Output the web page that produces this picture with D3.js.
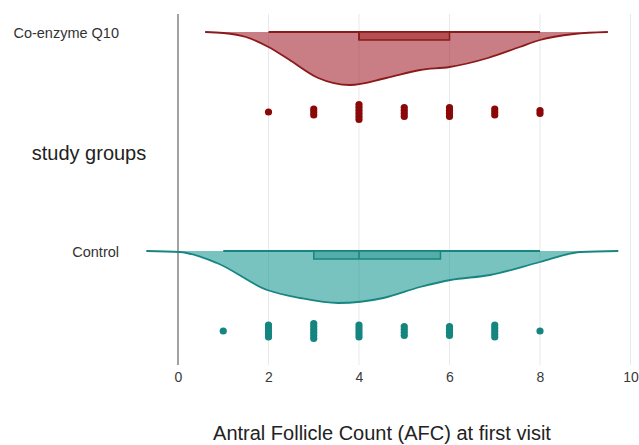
<!DOCTYPE html>
<html>
<head>
<meta charset="utf-8">
<script src="https://cdn.jsdelivr.net/npm/d3@7"></script>
<style>
  body { margin: 0; background: #fff; }
  svg { display: block; font-family: "Liberation Sans", Arial, sans-serif; }
</style>
</head>
<body>
<svg id="chart" width="639" height="445"></svg>
<script>
// Study groups, top to bottom
const groups = ["Co-enzyme Q10", "Control"];
const xTicks = [0, 2, 4, 6, 8, 10];

// Half-violin outlines: [AFC, density]
const densityQ10 = [[0.6, 0], [1, 0.005], [1.5, 0.025], [2, 0.075], [2.5, 0.145], [3.1, 0.23], [3.8, 0.265],
  [4.6, 0.23], [5.35, 0.19], [6.0, 0.175], [6.85, 0.13], [7.55, 0.075], [8.0, 0.04], [8.75, 0.01], [9.5, 0]];
const densityControl = [[-0.7, 0], [0.04, 0.005], [0.86, 0.06], [1.97, 0.195], [2.7, 0.235], [3.54, 0.26],
  [4.54, 0.235], [5.35, 0.18], [6.02, 0.145], [6.9, 0.12], [8.0, 0.055], [8.9, 0.005], [9.73, 0]];

// Box summaries: [lower whisker, Q1, median, Q3, upper whisker]
const boxQ10 = [2, 4, 4, 6, 8];
const boxControl = [1, 3, 4, 5.8, 8];

// Observed AFC values and how many patients had each
const afcValues = [1, 2, 3, 4, 5, 6, 7, 8];
const countsQ10 = [0, 1, 3, 6, 4, 4, 3, 2];
const countsControl = [1, 5, 6, 5, 4, 4, 5, 1];

const series = [
  { name: groups[0], density: densityQ10, box: boxQ10, counts: countsQ10,
    fill: "#a01c28", line: "#8b1a1a", boxFill: "#b04848", dot: "#8b0808" },
  { name: groups[1], density: densityControl, box: boxControl, counts: countsControl,
    fill: "#129490", line: "#178680", boxFill: "#4fa9a4", dot: "#14857f" }
];

const svg = d3.select("#chart");
const plotTop = 14, plotBottom = 365;

const x = d3.scaleLinear().domain([0, 10]).range([178, 630.5]);
const yGroup = d3.scalePoint().domain(groups).range([32, 251]);
const depth = d3.scaleLinear().domain([0, 0.3]).range([0, 60]);
const dotOffset = 80, dotGap = 3, dotR = 3.6;

// gridlines
svg.append("g").selectAll("line").data(xTicks.filter(d => d > 0)).join("line")
  .attr("x1", d => x(d)).attr("x2", d => x(d))
  .attr("y1", plotTop).attr("y2", plotBottom)
  .attr("stroke", "#e9e9e9").attr("stroke-width", 1);

// x = 0 reference line
svg.append("line")
  .attr("x1", x(0)).attr("x2", x(0)).attr("y1", plotTop).attr("y2", plotBottom)
  .attr("stroke", "#7a7a7a").attr("stroke-width", 1.4);

// x axis labels
const axis = svg.append("g").attr("transform", `translate(0,${plotBottom})`)
  .call(d3.axisBottom(x).tickValues(xTicks).tickSize(0).tickPadding(7).tickFormat(d3.format("d")));
axis.select(".domain").remove();
axis.selectAll("text").attr("font-size", 14).attr("fill", "#3a3a3a")
  .attr("font-family", "\"Liberation Sans\", Arial, sans-serif");

series.forEach(s => {
  const base = yGroup(s.name);
  const area = d3.area()
    .x(d => x(d[0])).y0(base).y1(d => base + depth(d[1]))
    .curve(d3.curveMonotoneX);
  const outline = d3.line()
    .x(d => x(d[0])).y(d => base + depth(d[1]))
    .curve(d3.curveMonotoneX);

  const g = svg.append("g");
  g.append("path").datum(s.density).attr("d", area)
    .attr("fill", s.fill).attr("fill-opacity", 0.57);
  g.append("path").datum(s.density).attr("d", outline)
    .attr("fill", "none").attr("stroke", s.line).attr("stroke-width", 1.8);

  // whisker
  const [lo, q1, med, q3, hi] = s.box;
  g.append("line")
    .attr("x1", x(lo)).attr("x2", x(hi)).attr("y1", base).attr("y2", base)
    .attr("stroke", s.line).attr("stroke-width", 2);
  // box
  g.append("rect")
    .attr("x", x(q1)).attr("y", base).attr("width", x(q3) - x(q1)).attr("height", 8)
    .attr("fill", s.boxFill).attr("fill-opacity", 0.85)
    .attr("stroke", s.line).attr("stroke-width", 1.5);
  g.append("line")
    .attr("x1", x(med)).attr("x2", x(med)).attr("y1", base).attr("y2", base + 8)
    .attr("stroke", s.line).attr("stroke-width", 1.5);

  // raw observations, stacked per value
  const dots = [];
  afcValues.forEach((v, i) => {
    const n = s.counts[i];
    for (let k = 0; k < n; k++) dots.push({ v, off: (k - (n - 1) / 2) * dotGap });
  });
  g.append("g").selectAll("circle").data(dots).join("circle")
    .attr("cx", d => x(d.v)).attr("cy", d => base + dotOffset + d.off)
    .attr("r", dotR).attr("fill", s.dot);

  // group label
  svg.append("text")
    .attr("x", 119).attr("y", base + 5.5)
    .attr("text-anchor", "end").attr("font-size", 14.5).attr("fill", "#333")
    .text(s.name);
});

// axis titles
svg.append("text")
  .attr("x", 89).attr("y", 160).attr("text-anchor", "middle")
  .attr("font-size", 20).attr("fill", "#222")
  .text("study groups");

svg.append("text")
  .attr("x", 382).attr("y", 440).attr("text-anchor", "middle")
  .attr("font-size", 20).attr("fill", "#222")
  .text("Antral Follicle Count (AFC) at first visit");
</script>
</body>
</html>
